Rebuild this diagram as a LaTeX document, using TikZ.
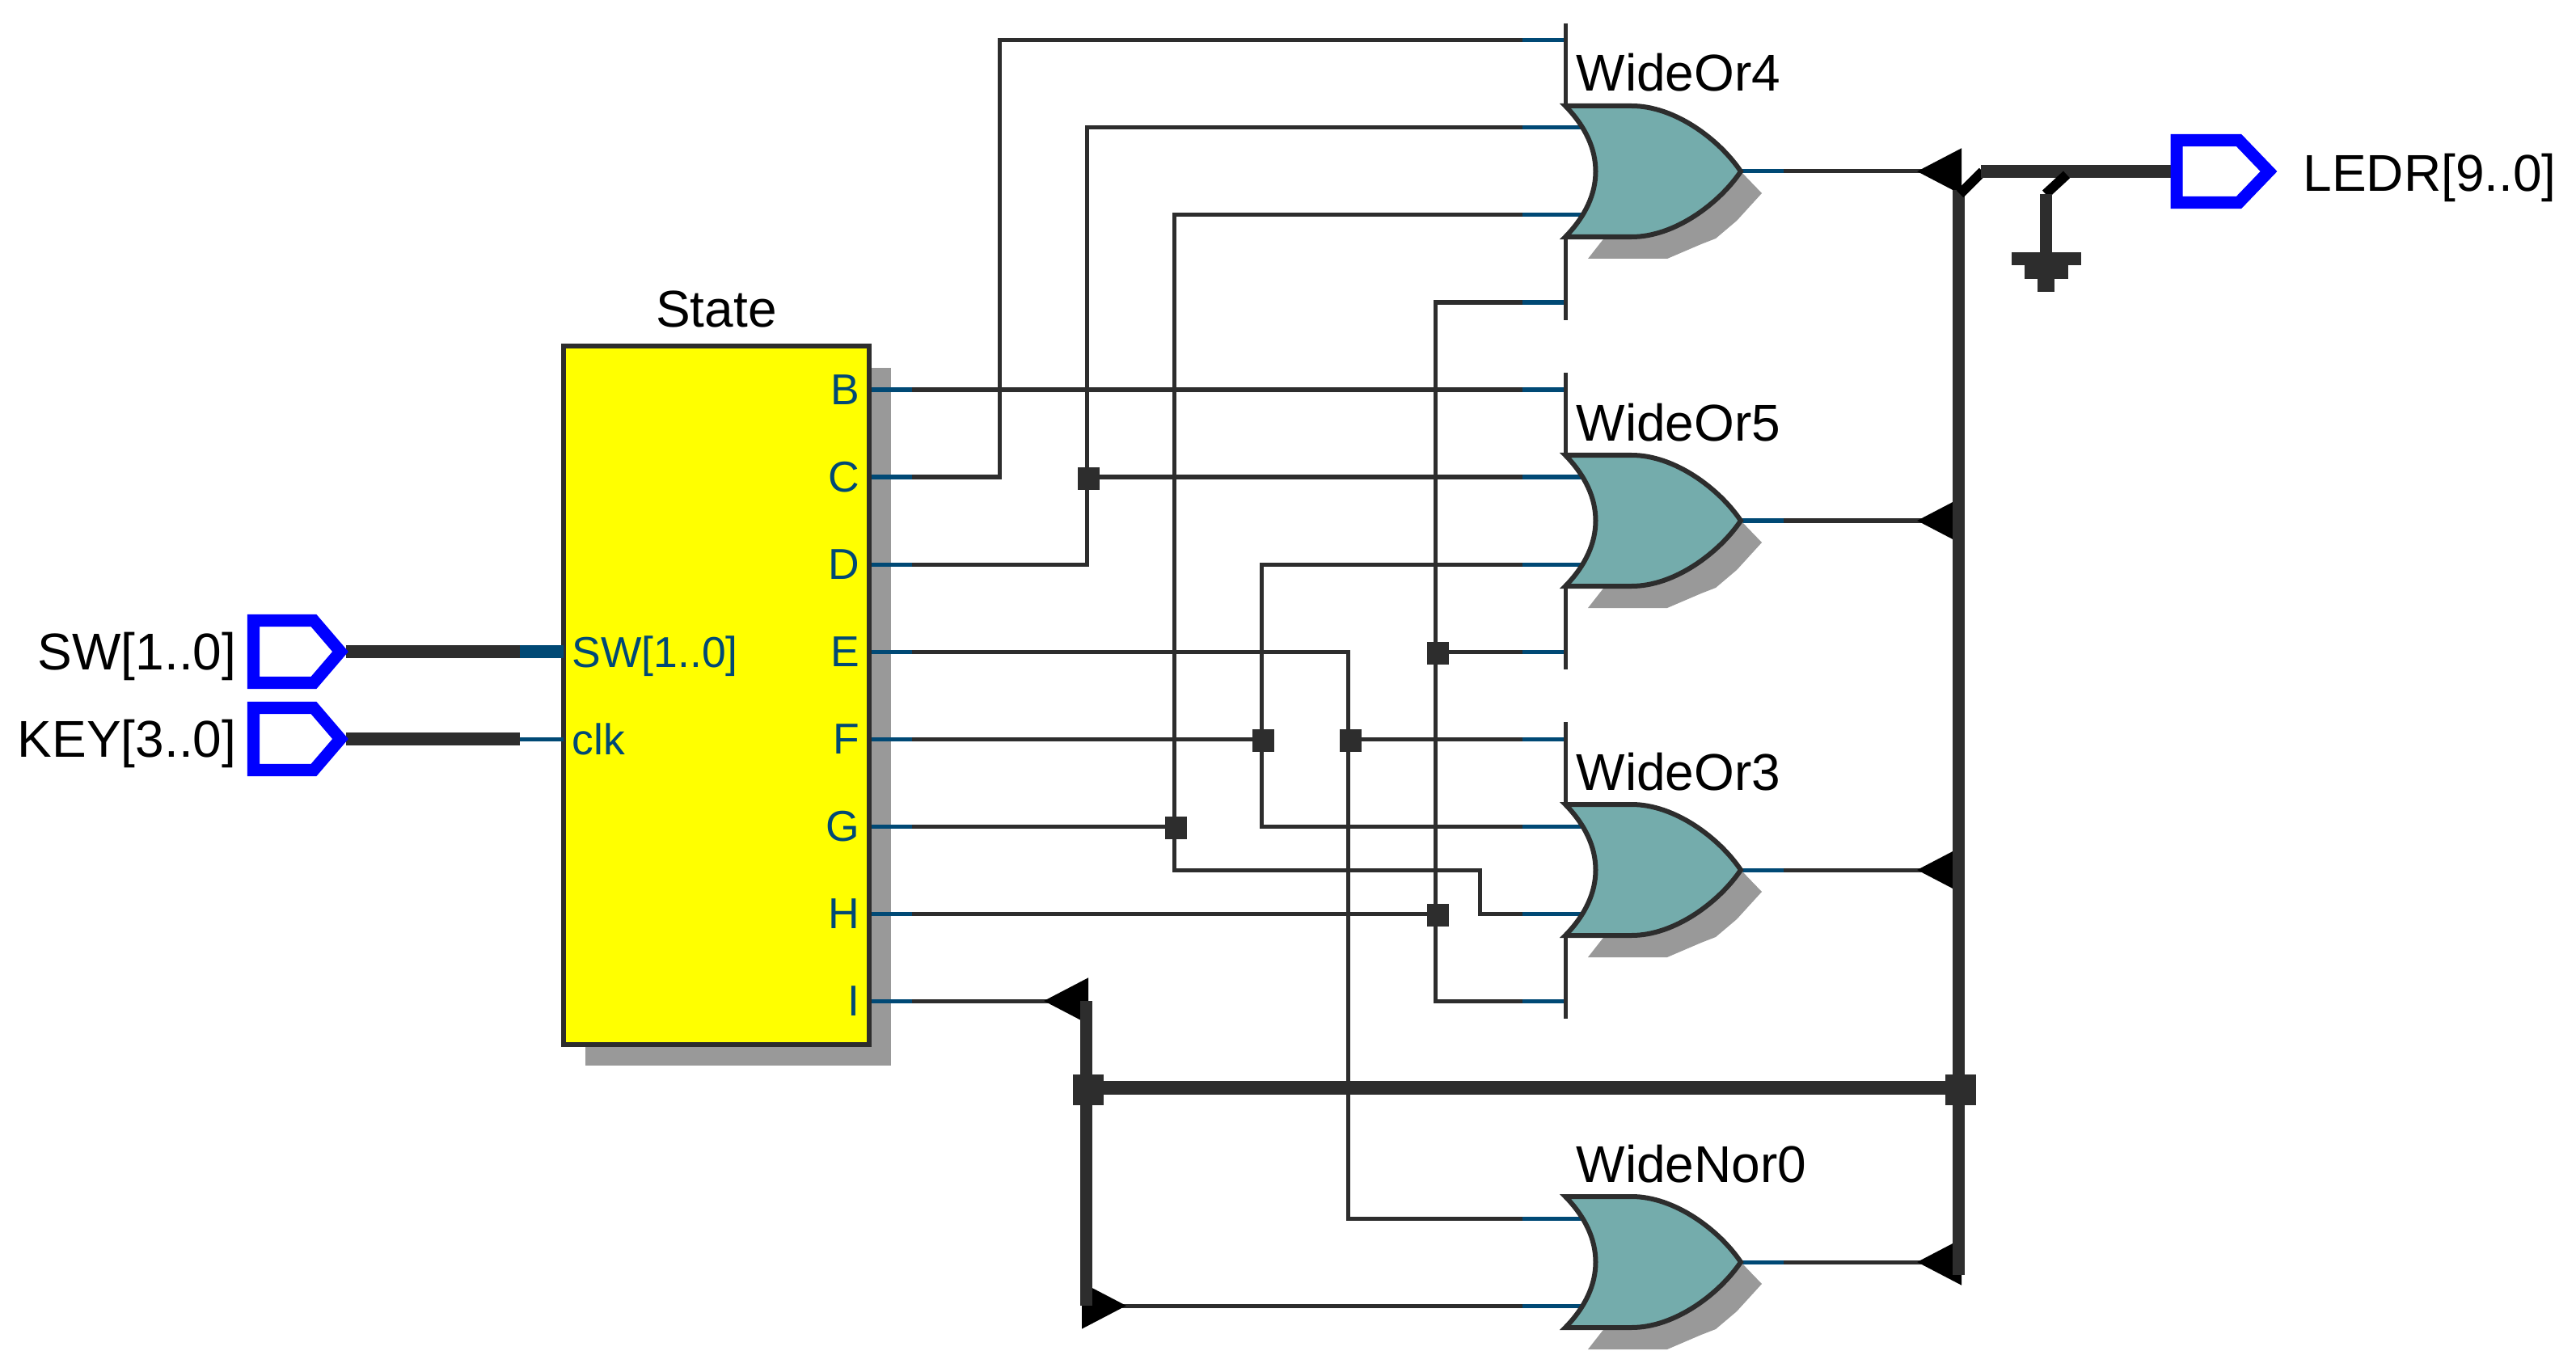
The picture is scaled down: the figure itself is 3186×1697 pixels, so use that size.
\documentclass[tikz,border=0pt]{standalone}
\usepackage{fontspec}
\setmainfont{Liberation Sans}
\usetikzlibrary{arrows.meta}
\definecolor{wirecol}{HTML}{2D2D2D}
\definecolor{stubcol}{HTML}{004975}
\definecolor{gatecol}{HTML}{74ACAC}
\definecolor{shadecol}{HTML}{999999}
\definecolor{boxcol}{HTML}{FFFF00}
\definecolor{portcol}{HTML}{0000FF}
\tikzset{
    wire/.style={draw=wirecol,line width=.05cm},
    stub/.style={draw=stubcol,line width=.05cm},
    bus/.style={draw=wirecol,line width=.15cm},
    slash/.style={draw=black,line width=.12cm},
    port/.style={draw=portcol,line width=.15cm,fill=white,miter limit=10},
    gate/.style={draw=wirecol,line width=.06cm,fill=gatecol},
    shade/.style={fill=shadecol},
    junction/.style={fill=wirecol,inner sep=0pt,minimum size=.27cm},
    busjunction/.style={fill=wirecol,inner sep=0pt,minimum size=.38cm},
    biglabel/.style={inner sep=0pt,font=\fontsize{18.2}{20}\selectfont},
    pinlabel/.style={inner sep=0pt,text=stubcol,font=\fontsize{15.2}{17}\selectfont},
    backtip/.tip={Triangle[reversed,length=.55cm,width=.56cm,color=black,fill=black]}
}
% x1 left, x2 shoulder, x3 point, y centre
\newcommand{\portshape}[4]{
    \draw[port] (#1,#4-38.5) -- (#2,#4-38.5) -- (#3,#4) -- (#2,#4+38.5) -- (#1,#4+38.5) -- cycle;
}
\newcommand{\orgate}[2]{
    \begin{scope}[shift={(1936,#1)}]
        \fill[shade] (217,0) -- (243,27) -- (212,61) -- (186,83) -- (168,90) -- (126,108) -- (28,108) -- (46,85) -- (100,40) -- cycle;
        \draw[gate,line join=miter] (0,-81) -- (82,-81) .. controls (135,-81) and (190,-40) .. (217,0)
            .. controls (190,40) and (135,81) .. (82,81) -- (0,81)
            .. controls (50,30) and (50,-30) .. (0,-81) -- cycle;
        \node[biglabel,anchor=base west] (#2) at (13,-99) {#2};
    \end{scope}
}
\begin{document}
\begin{tikzpicture}[x=.01cm,y=-.01cm]
    \useasboundingbox (0,0) rectangle (3186,1697);

    \fill[shade] (724,455) rectangle (1102,1318);

    \foreach \p/\y in {B/482,C/590,D/698,E/806,F/914,G/1022,H/1130,I/1238}
        \coordinate (\p) at (1075,\y);
    \foreach \g/\y in {WO4/212,WO5/644,WO3/1076,WN0/1561} {
        \coordinate (\g o) at (2153,\y);
        \coordinate (\g i1) at (1936,\y-162);
        \coordinate (\g i2) at (1961,\y-54);
        \coordinate (\g i3) at (1961,\y+54);
        \coordinate (\g i4) at (1936,\y+162);
    }
    \coordinate (SWin) at (697,806);
    \coordinate (clkin) at (697,914);
    \coordinate (SWp) at (428,806);
    \coordinate (KEYp) at (428,914);
    \coordinate (LEDRp) at (2693,212);
    \coordinate (LEDRj) at (2450,212);
    \coordinate (T4) at (2426,212);
    \coordinate (T5) at (2426,644);
    \coordinate (T3) at (2426,1076);
    \coordinate (T0) at (2426,1561);
    \coordinate (TI) at (1346,1238);
    \coordinate (TN) at (1338,1615);
    \coordinate (BL) at (1343,1345);
    \coordinate (BR) at (2422,1345);

    \node[junction] (J1) at (1346,592) {};
    \node[junction] (J2) at (1454,1024) {};
    \node[junction] (J3) at (1562,916) {};
    \node[junction] (J4) at (1670,916) {};
    \node[junction] (J5) at (1778,808) {};
    \node[junction] (J6) at (1778,1132) {};
    \node[busjunction] (J7) at (1346,1348) {};
    \node[busjunction] (J8) at (2425,1348) {};

    \draw[wire] (B) -- (WO5i1);
    \draw[wire] (C) -| (1236,50) -- (WO4i1);
    \draw[wire] (D) -| (1344,158) -- (WO4i2);
    \draw[wire] (J1 |- WO5i2) -- (WO5i2);
    \draw[wire] (E) -| (1667.5,1507) -- (WN0i2);
    \draw[wire] (1667.5,914) -- (WO3i1);
    \draw[wire] (F) -- (1560,914);
    \draw[wire] (WO5i3) -| (1560,1022) -- (WO3i2);
    \draw[wire] (G) -- (1452,1022);
    \draw[wire] (WO4i3) -| (1452,1076) -- (1830,1076) |- (WO3i3);
    \draw[wire] (H) -- (1775,1130);
    \draw[wire] (WO4i4) -| (1775,1238) -- (WO3i4);
    \draw[wire] (1775,806) -- (WO5i4);
    \draw[wire,{backtip}-] (TN) -- (WN0i3);

    \draw[wire,-{backtip}] (I) -- (TI);
    \draw[wire,-{backtip}] (WO4o) -- (T4);
    \draw[wire,-{backtip}] (WO5o) -- (T5);
    \draw[wire,-{backtip}] (WO3o) -- (T3);
    \draw[wire,-{backtip}] (WN0o) -- (T0);

    % pins take the blue end of each wire
    \foreach \p in {B,C,D,E,F,G,H,I}
        \draw[stub] (\p) -- ++(53,0);
    \foreach \p in {WO4o,WO5o,WO3o,WN0o}
        \draw[stub] (\p) -- ++(53,0);
    \foreach \p in {WO4i1,WO4i4,WO5i1,WO5i4,WO3i1,WO3i4}
        \draw[stub] (\p) -- ++(-53,0);
    \foreach \p in {WO4i2,WO4i3,WO5i2,WO5i3,WO3i2,WO3i3,WN0i2,WN0i3}
        \draw[stub] (\p) -- ++(-78,0);

    \foreach \y in {212,644,1076} {
        \draw[wire] (1936,\y-183) -- (1936,\y-81);
        \draw[wire] (1936,\y+81) -- (1936,\y+184);
    }

    \orgate{212}{WideOr4}
    \orgate{644}{WideOr5}
    \orgate{1076}{WideOr3}
    \orgate{1561}{WideNor0}

    \node[draw=wirecol,line width=.06cm,fill=boxcol,minimum width=3.78cm,minimum height=8.64cm] (State) at (886,860) {};
    \node[biglabel,anchor=base] (Statelab) at (886,404) {State};
    \foreach \p/\y in {B/482,C/590,D/698,E/806,F/914,G/1022,H/1130,I/1238}
        \node[pinlabel,anchor=base east] (lab\p) at (1064,\y+18) {\p};
    \node[pinlabel,anchor=base west] (labSW) at (707,825) {SW[1..0]};
    \node[pinlabel,anchor=base west] (labclk) at (707,933) {clk};

    % inputs
    \draw[bus] (SWp) -- (643,806);
    \draw[stub,line width=.15cm] (643,806) -- (SWin);
    \draw[bus] (KEYp) -- (643,914);
    \draw[stub] (643,914) -- (clkin);
    \portshape{313.5}{388}{421}{806}
    \portshape{313.5}{388}{421}{914}
    \node[biglabel,anchor=base east] (SWlab) at (293,828) {SW[1..0]};
    \node[biglabel,anchor=base east] (KEYlab) at (293,936) {KEY[3..0]};

    % buses
    \draw[bus] (1343,1238) -- (1343,1615);
    \draw[bus] (2422,235) -- (2422,1577);
    \draw[bus,line width=.17cm] (BL) -- (BR);

    % output and the grounded branch
    \draw[slash] (2424,240) -- (2452,212);
    \draw[bus,line width=.16cm] (LEDRj) -- (LEDRp);
    \draw[slash] (2530,240) -- (2556,216);
    \draw[bus] (2530,240) -- (2530,312);
    \fill[wirecol] (2488,312) rectangle (2574,328);
    \fill[wirecol] (2504,328) rectangle (2558,345);
    \fill[wirecol] (2520,345) rectangle (2541,361);
    \portshape{2692}{2769}{2806}{212}
    \node[biglabel,anchor=base west] (LEDRlab) at (2848,237) {LEDR[9..0]};
\end{tikzpicture}
\end{document}
